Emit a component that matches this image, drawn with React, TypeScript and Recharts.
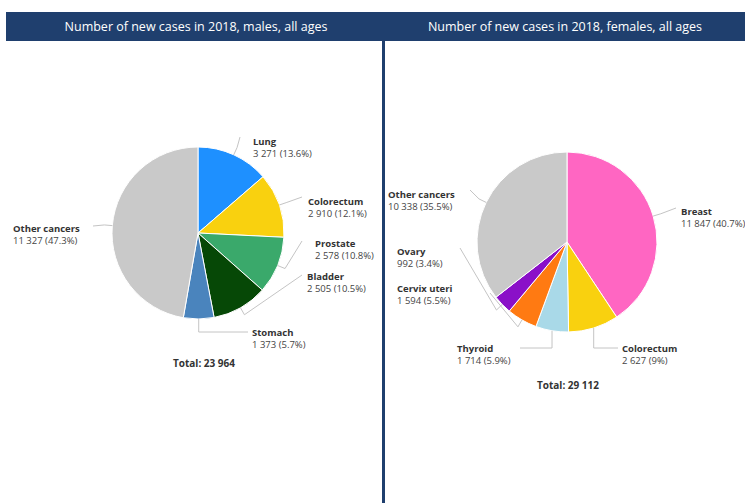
import React from 'react';
import { PieChart, Pie, Cell } from 'recharts';

// Number of new cases in 2018 – males
const maleNames = ['Lung', 'Colorectum', 'Prostate', 'Bladder', 'Stomach', 'Other cancers'];
const maleCases = [3271, 2910, 2578, 2505, 1373, 11327];
const maleColors = ['#1e90ff', '#f9d10f', '#3aa96b', '#064806', '#4a84bd', '#c9c9c9'];

// Number of new cases in 2018 – females
const femaleNames = ['Breast', 'Colorectum', 'Thyroid', 'Cervix uteri', 'Ovary', 'Other cancers'];
const femaleCases = [11847, 2627, 1714, 1594, 992, 10338];
const femaleColors = ['#ff66c2', '#f9d10f', '#a9d9e8', '#ff7a12', '#8a10c8', '#c9c9c9'];

const titles = ['Number of new cases in 2018, males, all ages', 'Number of new cases in 2018, females, all ages'];

const NAVY = '#1f3f6e';
const FONT = '"Open Sans", "Noto Sans", sans-serif';
const RAD = Math.PI / 180;

type Layout = { tx: number; ty: number; ex: number; ey: number; mode: 'r' | 'v' };

// label text / leader end positions, relative to pie centre
const maleLayout: Layout[] = [
  { tx: 55, ty: -92, ex: 42, ey: -96, mode: 'r' },
  { tx: 110, ty: -32, ex: 104, ey: -36, mode: 'r' },
  { tx: 117, ty: 10, ex: 104, ey: 8, mode: 'r' },
  { tx: 109, ty: 43, ex: 104, ey: 42, mode: 'r' },
  { tx: 54, ty: 99, ex: 50, ey: 99, mode: 'v' },
  { tx: -185, ty: -5, ex: -105, ey: -7, mode: 'r' },
];

const femaleLayout: Layout[] = [
  { tx: 114, ty: -31, ex: 109, ey: -34, mode: 'r' },
  { tx: 55, ty: 106, ex: 51, ey: 106, mode: 'v' },
  { tx: -110, ty: 106, ex: -47, ey: 106, mode: 'v' },
  { tx: -170, ty: 46, ex: -77, ey: 51, mode: 'r' },
  { tx: -170, ty: 9, ex: -107, ey: 6, mode: 'r' },
  { tx: -179, ty: -48, ex: -97, ey: -52, mode: 'r' },
];

const fmtNum = (n: number) => String(n).replace(/\B(?=(\d{3})+(?!\d))/g, ' ');
const fmtPct = (p: number) => (p * 100).toFixed(1).replace(/\.0$/, '');

const toRows = (names: string[], values: number[]) => names.map((name, i) => ({ name, value: values[i] }));

function makeLabel(layout: Layout[]) {
  return (props: any) => {
    const { cx, cy, midAngle, outerRadius, index, name, value, percent } = props;
    const l = layout[index];
    const ex = cx + outerRadius * Math.cos(-midAngle * RAD);
    const ey = cy + outerRadius * Math.sin(-midAngle * RAD);
    const endX = cx + l.ex;
    const endY = cy + l.ey;
    let mx: number, my: number;
    if (l.mode === 'v') {
      mx = ex;
      my = endY;
    } else {
      mx = cx + (outerRadius + 8) * Math.cos(-midAngle * RAD);
      my = cy + (outerRadius + 8) * Math.sin(-midAngle * RAD);
    }
    return (
      <g>
        <polyline
          points={`${ex},${ey} ${mx},${my} ${endX},${endY}`}
          fill="none"
          stroke="#c4c4c4"
          strokeWidth={1}
        />
        <text x={cx + l.tx} y={cy + l.ty} fontFamily={FONT} fontSize={9.5} dominantBaseline="central">
          <tspan fontWeight={700} fill="#333">{name}</tspan>
          <tspan x={cx + l.tx} dy={12} fill="#444">{`${fmtNum(value)} (${fmtPct(percent)}%)`}</tspan>
        </text>
      </g>
    );
  };
}

const maleTotal = maleCases.reduce((a, b) => a + b, 0);
const femaleTotal = femaleCases.reduce((a, b) => a + b, 0);

export default function App() {
  return (
    <div style={{ position: 'absolute', left: 0, top: 0, width: 745, height: 503, background: '#fff', overflow: 'hidden' }}>
      <PieChart width={745} height={503} margin={{ top: 0, right: 0, bottom: 0, left: 0 }}>
        <Pie
          data={toRows(maleNames, maleCases)}
          dataKey="value"
          nameKey="name"
          cx={198}
          cy={233}
          outerRadius={86}
          startAngle={90}
          endAngle={-270}
          stroke="#fff"
          strokeWidth={1}
          label={makeLabel(maleLayout)}
          labelLine={false}
          isAnimationActive={false}
        >
          {maleNames.map((n, i) => (
            <Cell key={n} fill={maleColors[i]} />
          ))}
        </Pie>
        <Pie
          data={toRows(femaleNames, femaleCases)}
          dataKey="value"
          nameKey="name"
          cx={567}
          cy={242}
          outerRadius={90}
          startAngle={90}
          endAngle={-270}
          stroke="#fff"
          strokeWidth={1}
          label={makeLabel(femaleLayout)}
          labelLine={false}
          isAnimationActive={false}
        >
          {femaleNames.map((n, i) => (
            <Cell key={n} fill={femaleColors[i]} />
          ))}
        </Pie>
      </PieChart>

      <div style={{ position: 'absolute', left: 6, top: 12, width: 739, height: 29, background: NAVY }} />
      <div style={{ position: 'absolute', left: 382, top: 40, width: 3, height: 463, background: NAVY }} />
      {titles.map((t, i) => (
        <div
          key={t}
          style={{
            position: 'absolute',
            left: i === 0 ? 96 : 465,
            width: 200,
            top: 12,
            height: 29,
            lineHeight: '29px',
            textAlign: 'center',
            whiteSpace: 'nowrap',
            display: 'flex',
            justifyContent: 'center',
            color: '#fff',
            fontFamily: FONT,
            fontSize: 12.5,
          }}
        >
          {t}
        </div>
      ))}
      {[
        { total: maleTotal, x: 204, y: 363 },
        { total: femaleTotal, x: 568, y: 385 },
      ].map((d) => (
        <div
          key={d.total}
          style={{
            position: 'absolute',
            left: d.x - 100,
            width: 200,
            top: d.y - 8,
            height: 16,
            lineHeight: '16px',
            textAlign: 'center',
            fontFamily: FONT,
            fontWeight: 700,
            fontSize: 10,
            color: '#333',
          }}
        >
          {`Total: ${fmtNum(d.total)}`}
        </div>
      ))}
    </div>
  );
}
